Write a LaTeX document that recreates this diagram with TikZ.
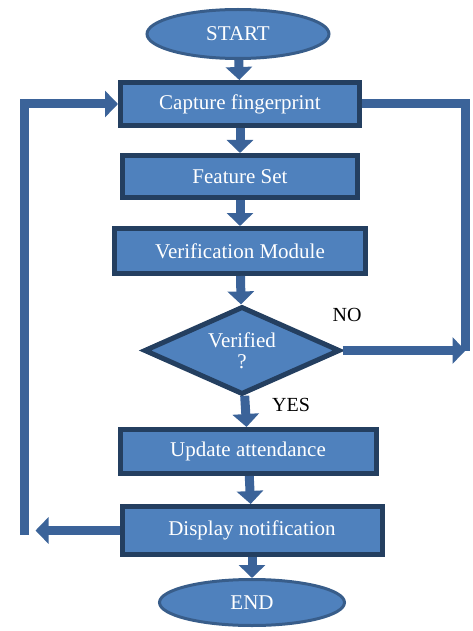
\documentclass[tikz,border=0pt]{standalone}
\usepackage{fontspec}
\setmainfont{Liberation Serif}
\usepackage{tikz}
\usetikzlibrary{shapes,arrows.meta,positioning,calc}
\definecolor{flowfill}{HTML}{4F81BD}
\definecolor{flowedge}{HTML}{243F60}
\definecolor{ovaledge}{HTML}{385D8A}
\definecolor{flowarrow}{HTML}{3B6399}

\begin{document}
\begin{tikzpicture}[
    terminal/.style={ellipse, draw=ovaledge, line width=3pt, fill=flowfill, text=white, inner sep=0pt, font=\fontsize{21}{23}\selectfont},
    block/.style={rectangle, draw=flowedge, line width=5pt, fill=flowfill, text=white, text centered, inner sep=0pt, font=\fontsize{21}{23}\selectfont},
    decision/.style={diamond, aspect=2.2, draw=flowedge, line width=5pt, fill=flowfill, text=white, text centered, inner sep=0pt, font=\fontsize{21}{21}\selectfont, align=center},
    arrow/.style={line width=9pt, flowarrow, -{Triangle[width=26pt,length=13pt]}},
    loopline/.style={line width=9pt, flowarrow},
    answer/.style={font=\fontsize{20}{22}\selectfont, text=black, inner sep=0pt}
]

\useasboundingbox (0,0) rectangle (472pt,-631pt);

\node[terminal, minimum width=182pt, minimum height=49pt] (start) at (238pt,-34pt) {START};
\node[block, minimum width=239pt, minimum height=43pt, below=20pt of start, xshift=2pt] (cap) {Capture fingerprint};
\node[block, minimum width=235pt, minimum height=42pt, below=25pt of cap] (feat) {Feature Set};
\node[block, minimum width=251pt, minimum height=45pt, below=26pt of feat] (verif) {Verification Module};
\node[decision, minimum width=196pt, minimum height=88pt, below=28pt of verif, xshift=2pt] (ver) {\raisebox{-3pt}{Verified}\\\raisebox{-3pt}{?}};
\node[block, minimum width=256pt, minimum height=44pt, below=30pt of ver, xshift=6pt] (upd) {Update attendance};
\node[block, minimum width=260pt, minimum height=48pt, below=28pt of upd, xshift=4pt] (disp) {Display notification};
\node[terminal, minimum width=185pt, minimum height=46pt, below=21pt of disp] (end) {END};

\draw[arrow] (start) -- (cap);
\draw[arrow] (cap) -- (feat);
\draw[arrow] (feat) -- (verif);
\draw[arrow] (verif) -- (ver);
\draw[arrow] (ver) -- (upd);
\draw[arrow] (upd) -- (disp);
\draw[arrow] (disp) -- (end);
\node[answer, below right=1pt and 30pt of ver.south] (yes) {YES};

% NO branch back to capture
\coordinate[right=123pt of ver.east] (rc);
\draw[arrow] (ver.east) -- (rc);
\draw[loopline] (rc) |- (cap.east);
\node[answer, above right=29pt and -10pt of ver.east] (no) {NO};

% loop after notification
\coordinate[left=84pt of disp.west] (lc);
\draw[arrow] (disp.west) -- (lc);
\draw[loopline, -{Triangle[width=26pt,length=13pt]}] ([xshift=-11pt,yshift=-4pt]lc) |- (cap.west);

\end{tikzpicture}
\end{document}
